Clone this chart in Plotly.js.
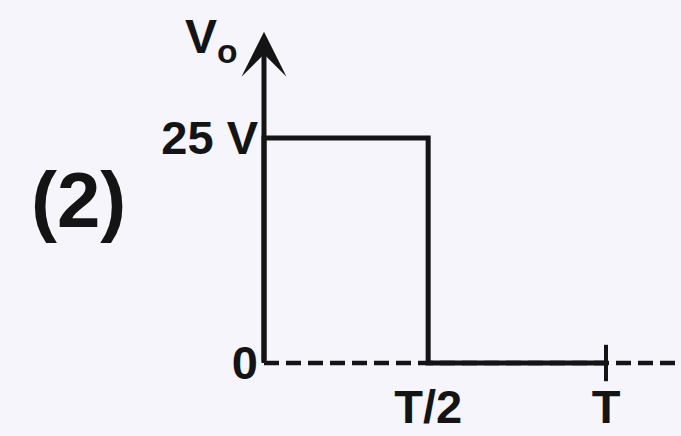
<!DOCTYPE html>
<html>
<head>
<meta charset="utf-8">
<script src="https://cdn.plot.ly/plotly-3.0.1.min.js"></script>
<style>html,body{margin:0;padding:0;background:#f6f5fb;}</style>
</head>
<body>
<div id="chart" style="width:681px;height:436px;"></div>
<script>
// waveform V0(t), t in units of T
const waveT = [0, 0, 0.48, 0.48, 1];
const waveV = [0, 25, 25, 0, 0];
// dashed time axis (baseline)
const baseT = [0, 1.25];
const baseV = [0, 0];
// period tick
const periodT = [1];
const periodV = [0];
// tick labels
const xTickVals = [0.48, 1];
const xTickText = ['T/2', 'T'];
const yTickVals = [0, 25];
const yTickText = ['0', '25 V'];
const yAxisTop = 36.8;

const ink = '#141414';
const fontFam = '"Liberation Sans", Arial, sans-serif';

const traces = [
  {x: baseT, y: baseV, mode: 'lines', line: {color: ink, width: 4.5, dash: '15px,7px'}, hoverinfo: 'skip'},
  {x: waveT, y: waveV, mode: 'lines', line: {color: ink, width: 5}, hoverinfo: 'skip'},
  {x: periodT, y: periodV, mode: 'markers', marker: {symbol: 'line-ns', size: 26, line: {color: ink, width: 4}}, hoverinfo: 'skip'}
];

const tf = {size: 47, family: fontFam, color: ink, weight: 'bold'};

const layout = {
  width: 681, height: 436,
  margin: {l: 0, r: 0, t: 0, b: 0},
  paper_bgcolor: '#f6f5fb', plot_bgcolor: '#f6f5fb',
  showlegend: false,
  font: {family: fontFam, color: ink, size: 46},
  xaxis: {
    range: [-264/342, (681-264)/342],
    anchor: 'free', position: 73/436,
    showgrid: false, zeroline: false, showline: false,
    ticks: '', tickvals: xTickVals, ticktext: xTickText,
    tickfont: tf,
    ticklabelstandoff: 12
  },
  yaxis: {
    range: [-(436-363)/9, 363/9],
    anchor: 'free', position: 264/681,
    showgrid: false, zeroline: false, showline: false,
    ticks: '', tickvals: yTickVals, ticktext: yTickText,
    tickfont: tf,
    ticklabelstandoff: 6
  },
  annotations: [
    {x: 0, y: yAxisTop, ax: 0, ay: 0, xref: 'x', yref: 'y', axref: 'x', ayref: 'y',
     text: '', showarrow: true, arrowhead: 3, arrowsize: 1.5, arrowwidth: 5, arrowcolor: ink},
    {xref: 'paper', yref: 'paper', x: 212/681, y: 1 - 40/436, xanchor: 'center', yanchor: 'middle',
     text: 'V<sub>o</sub>', showarrow: false, font: {size: 48, family: fontFam, color: ink, weight: 'bold'}},
    {xref: 'paper', yref: 'paper', x: 78/681, y: 1 - 200/436, xanchor: 'center', yanchor: 'middle',
     text: '(2)', showarrow: false, font: {size: 78, family: fontFam, color: ink, weight: 'bold'}}
  ]
};

Plotly.newPlot('chart', traces, layout, {staticPlot: true, displayModeBar: false});
</script>
</body>
</html>
